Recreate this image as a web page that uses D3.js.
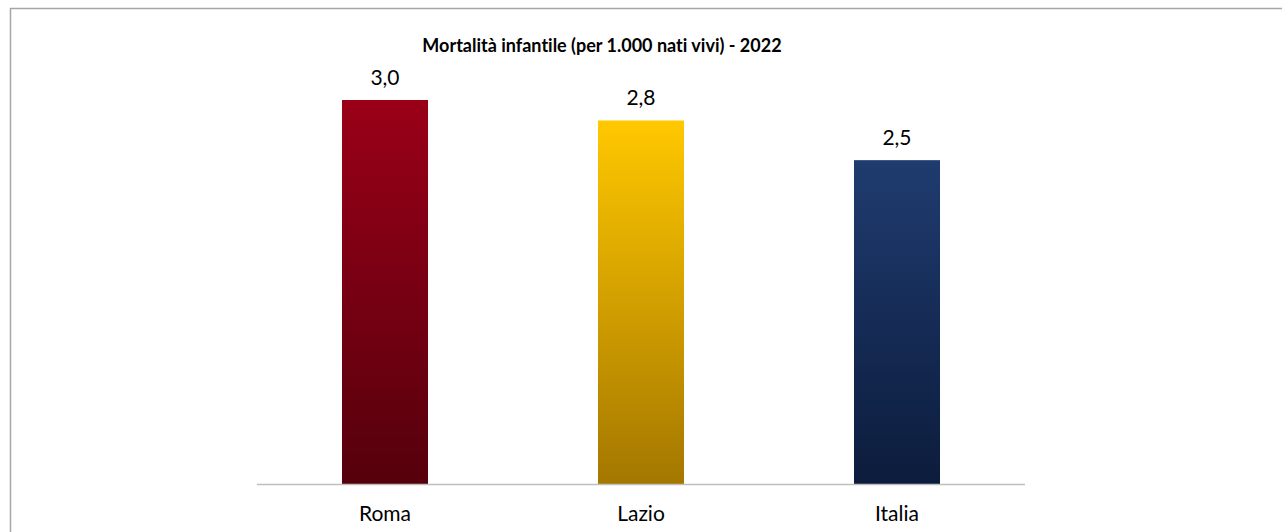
<!DOCTYPE html>
<html>
<head>
  <meta charset="utf-8">
  <script src="https://cdn.jsdelivr.net/npm/d3@7"></script>
  <style>
    body {margin:0; background:#fff;}
    text {font-family: Lato, "Open Sans", sans-serif; fill:#000; font-variant-ligatures: none;}
  </style>
</head>
<body>
<script>
const categories = ["Roma", "Lazio", "Italia"];
const values = [3.0, 2.84, 2.53];
const topColors = ["#9a0018", "#ffc800", "#1f3b6f"];
const bottomColors = ["#55000c", "#a47700", "#0c1c3c"];
const title = "Mortalità infantile (per 1.000 nati vivi) - 2022";

const width = 1282, height = 532;

const svg = d3.select("body").append("svg")
  .attr("width", width)
  .attr("height", height);

// outer chart frame (right/bottom edges fall outside the picture)
svg.append("rect")
  .attr("x", 10.5).attr("y", 8.5)
  .attr("width", 1400).attr("height", 700)
  .attr("fill", "none")
  .attr("stroke", "#a6a6a6")
  .attr("stroke-width", 1.5);

const x = d3.scaleBand().domain(categories).range([257, 1025]);
const y = d3.scaleLinear().domain([0, 3.5]).range([484, 36]);

const defs = svg.append("defs");
categories.forEach((c, i) => {
  const g = defs.append("linearGradient")
    .attr("id", "grad" + i)
    .attr("x1", 0).attr("y1", 0).attr("x2", 0).attr("y2", 1);
  g.append("stop").attr("offset", "0%").attr("stop-color", topColors[i]);
  g.append("stop").attr("offset", "100%").attr("stop-color", bottomColors[i]);
});

const barW = x.bandwidth() * 0.336;
const fmt = v => d3.format(".1f")(v).replace(".", ",");

svg.append("g").selectAll("rect")
  .data(categories)
  .join("rect")
  .attr("x", d => x(d) + (x.bandwidth() - barW) / 2)
  .attr("width", barW)
  .attr("y", (d, i) => y(values[i]))
  .attr("height", (d, i) => y(0) - y(values[i]))
  .attr("fill", (d, i) => `url(#grad${i})`);

// category axis
svg.append("line")
  .attr("x1", 257).attr("x2", 1025)
  .attr("y1", y(0) + 0.5).attr("y2", y(0) + 0.5)
  .attr("stroke", "#bfbfbf")
  .attr("stroke-width", 1.5);

svg.append("g").selectAll("text")
  .data(categories)
  .join("text")
  .attr("x", d => x(d) + x.bandwidth() / 2)
  .attr("y", 521)
  .attr("text-anchor", "middle")
  .style("font-size", "21px")
  .text(d => d);

// value labels
svg.append("g").selectAll("text")
  .data(categories)
  .join("text")
  .attr("x", d => x(d) + x.bandwidth() / 2)
  .attr("y", (d, i) => y(values[i]) - 15)
  .attr("text-anchor", "middle")
  .style("font-size", "21px")
  .text((d, i) => fmt(values[i]));

svg.append("text")
  .attr("x", 602)
  .attr("y", 52)
  .attr("text-anchor", "middle")
  .style("font-size", "18px")
  .style("font-weight", "bold")
  .text(title);
</script>
</body>
</html>
